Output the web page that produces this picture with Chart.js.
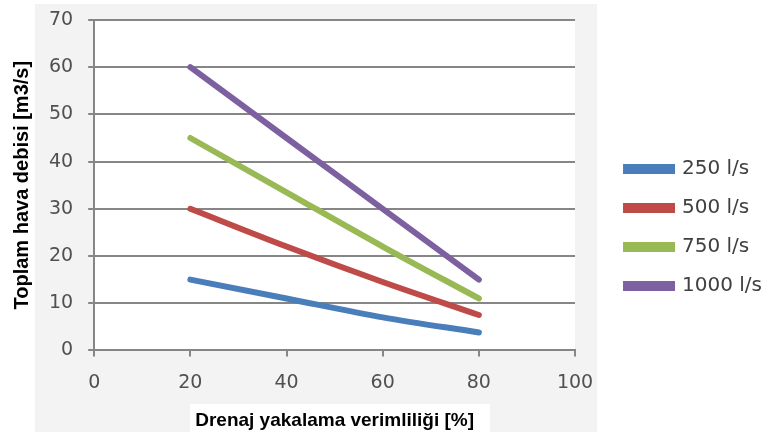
<!DOCTYPE html>
<html>
<head>
<meta charset="utf-8">
<script src="https://cdn.jsdelivr.net/npm/chart.js@4/dist/chart.umd.min.js"></script>
<style>
  html, body { margin: 0; padding: 0; background: #ffffff; }
  #wrap { width: 772px; height: 439px; }
</style>
</head>
<body>
<div id="wrap"><canvas id="chart"></canvas></div>
<script>
const efficiency = [20, 40, 60, 80];
const flow250 = [15, 11, 7, 3.8];
const flow500 = [30, 22, 14.5, 7.5];
const flow750 = [45, 33.5, 22, 11];
const flow1000 = [60, 45, 30, 15];
const seriesNames = ["250 l/s", "500 l/s", "750 l/s", "1000 l/s"];
const yTicks = [0, 10, 20, 30, 40, 50, 60, 70];
const xTicks = [0, 20, 40, 60, 80, 100];

const colors = ["#4a7ebb", "#be4b48", "#98b954", "#7d60a0"];
const gridColor = "#868686";
const tickColor = "#505050";

function points(values) {
  return values.map((v, i) => ({ x: efficiency[i], y: v }));
}

// grey backdrop like the pasted picture
const backdrop = {
  id: "backdrop",
  beforeDraw(chart) {
    const { ctx, chartArea } = chart;
    ctx.save();
    ctx.fillStyle = "#f3f3f3";
    ctx.fillRect(35, 4, 562, 428);
    ctx.fillStyle = "#ffffff";
    ctx.fillRect(chartArea.left, chartArea.top, chartArea.right - chartArea.left, chartArea.bottom - chartArea.top);
    ctx.fillRect(190, 404, 300, 35);
    ctx.restore();
  },
};

function initLineChart(canvas) {
  const datasets = [flow250, flow500, flow750, flow1000].map((vals, i) => ({
    label: seriesNames[i],
    data: points(vals),
    borderColor: colors[i],
    backgroundColor: colors[i],
    borderWidth: 6,
    borderCapStyle: "round",
    pointRadius: 0,
    cubicInterpolationMode: "monotone",
  }));

  const options = {
    type: "line",
    data: { datasets: datasets },
    options: {
      responsive: true,
      maintainAspectRatio: false,
      animation: false,
      layout: { padding: { left: 6, top: 20, right: 0, bottom: 4 } },
      plugins: {
        legend: {
          position: "right",
          maxWidth: 220,
          labels: {
            boxWidth: 46,
            boxHeight: 4,
            padding: 19,
            color: "#404040",
            font: { family: "'DejaVu Sans', sans-serif", size: 20 },
          },
        },
        tooltip: { enabled: false },
      },
      scales: {
        x: {
          type: "linear",
          min: 0,
          max: 100,
          afterBuildTicks: (axis) => { axis.ticks = xTicks.map((v) => ({ value: v })); },
          border: { color: gridColor, width: 2 },
          grid: { drawOnChartArea: false, drawTicks: true, tickLength: 6, color: gridColor, lineWidth: 2 },
          ticks: {
            color: tickColor,
            padding: 15,
            maxRotation: 0,
            font: { family: "'DejaVu Sans', sans-serif", size: 19 },
          },
          title: {
            display: true,
            text: "Drenaj yakalama verimliliği [%]",
            color: "#000000",
            padding: { top: 0, bottom: 3 },
            font: { family: "'Liberation Sans', Arial, sans-serif", size: 19, weight: "bold" },
          },
        },
        y: {
          min: 0,
          max: 70,
          afterBuildTicks: (axis) => { axis.ticks = yTicks.map((v) => ({ value: v })); },
          // let the layout padding alone decide where the plot starts
          afterFit: (axis) => {
            axis.paddingTop = 0;
            axis.paddingBottom = 0;
          },
          border: { color: gridColor, width: 2 },
          grid: { color: gridColor, lineWidth: 2, tickLength: 6 },
          ticks: {
            color: tickColor,
            padding: 15,
            font: { family: "'DejaVu Sans', sans-serif", size: 19 },
          },
          title: {
            display: true,
            text: "Toplam hava debisi [m3/s]",
            color: "#000000",
            padding: { top: 4, bottom: 0 },
            font: { family: "'Liberation Sans', Arial, sans-serif", size: 20, weight: "bold" },
          },
        },
        // empty axis that only keeps a gap between the plot and the legend
        gap: {
          position: "right",
          afterFit: (axis) => { axis.width = 32; },
          border: { display: false },
          grid: { display: false },
          ticks: { display: false },
        },
      },
    },
    plugins: [backdrop],
  };
  return new Chart(canvas, options);
}

initLineChart(document.getElementById("chart"));
</script>
</body>
</html>
